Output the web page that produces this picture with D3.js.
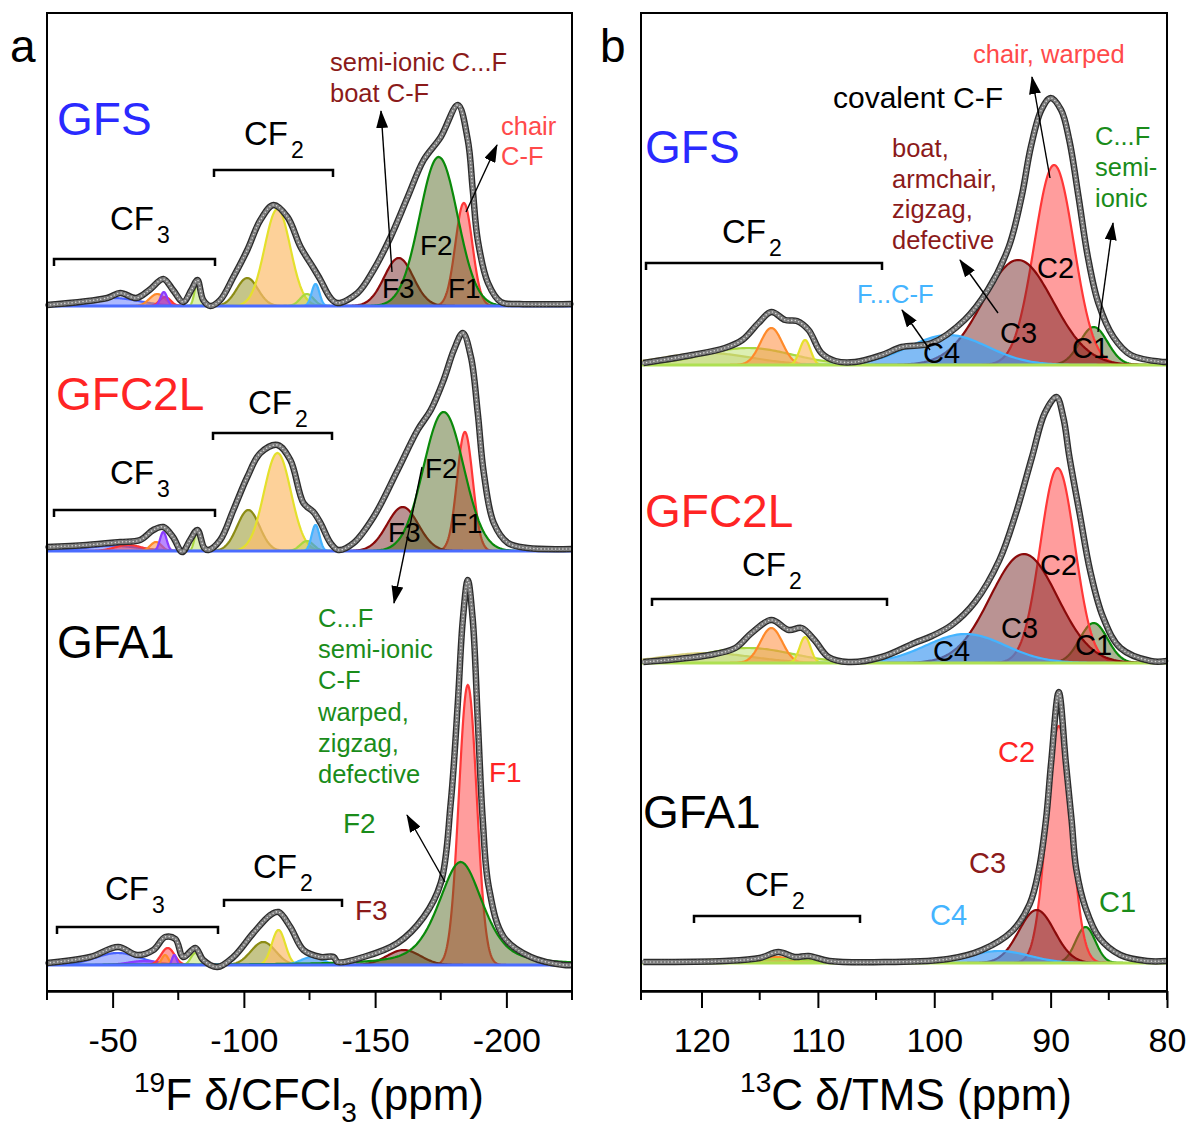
<!DOCTYPE html>
<html>
<head>
<meta charset="utf-8">
<script src="https://cdn.jsdelivr.net/npm/d3@7"></script>
<style>
  body { margin: 0; background: #fff; }
  text { font-family: "Liberation Sans", Arial, sans-serif; }
</style>
</head>
<body>
<svg id="chart"></svg>
<script>
// ---- data ----
// stacked baselines (intensity units, 1 unit = 100 px on the figure)
const sampleNames = ["GFS", "GFC2L", "GFA1"];
const fOffsets = [6.85, 4.40, 0.26];
const cOffsets = [6.26, 3.28, 0.28];

const fTicks = [-50, -100, -150, -200];
const fMinorTicks = [-75, -125, -175];
const cTicks = [120, 110, 100, 90, 80];
const cMinorTicks = [115, 105, 95, 85];

// fitted components: [centre ppm, height, fwhm ppm, colour, lorentz fraction]
const fGFS_peaks = [
  [-50, 0.08, 24, "blue"], [-67, 0.12, 7, "orange"], [-70, 0.09, 5, "red"],
  [-69.5, 0.14, 3, "purple"], [-82.3, 0.24, 2.6, "lime"], [-101.3, 0.28, 9.5, "olive"],
  [-112.8, 0.97, 11.5, "yellow"], [-124, 0.12, 6, "lime"], [-127.3, 0.22, 3.5, "sky"],
  [-183.8, 1.03, 7.6, "red"], [-159, 0.48, 13, "dred"], [-174.2, 1.49, 17, "green"]
];
const fGFC2L_peaks = [
  [-50, 0.05, 25, "blue"], [-56, 0.06, 12, "red"], [-66.5, 0.09, 5, "orange"],
  [-69.3, 0.19, 3, "purple"], [-82.3, 0.21, 2.6, "lime"], [-101.7, 0.41, 10, "olive"],
  [-112.8, 0.98, 12, "yellow"], [-124, 0.10, 6, "lime"], [-127.3, 0.26, 3.5, "sky"],
  [-184.2, 1.19, 7, "red"], [-160.5, 0.44, 14, "dred"], [-176.1, 1.39, 18, "green"]
];
const fGFA1_peaks = [
  [-52, 0.12, 20, "blue"], [-62, 0.04, 14, "purple"], [-71, 0.17, 6, "red"],
  [-70, 0.10, 3, "orange"], [-73.5, 0.10, 2, "purple"], [-81.5, 0.12, 4, "lime"],
  [-107.4, 0.23, 11, "olive"], [-113.2, 0.35, 6, "yellow"], [-126, 0.08, 10, "sky"],
  [-185.3, 2.80, 8, "red"], [-160.9, 0.15, 15, "dred"], [-182.6, 1.03, 20, "green", 0.5]
];
const cGFS_peaks = [
  [119.5, 0.12, 9, "tan"], [116, 0.17, 9, "lime"], [114, 0.37, 2.2, "orange"],
  [111.1, 0.25, 1.1, "yellow"], [86.3, 0.38, 2.8, "green"], [89.7, 2.00, 4, "red"],
  [92.8, 1.05, 7.1, "dred"], [98.8, 0.30, 8, "sky"]
];
const cGFC2L_peaks = [
  [119.5, 0.10, 9, "tan"], [116, 0.15, 9, "lime"], [114, 0.35, 2.2, "orange"],
  [111.1, 0.26, 1.1, "yellow"], [86.3, 0.40, 2.8, "green"], [89.4, 1.95, 3.5, "red"],
  [92.3, 1.09, 6.8, "dred"], [97.3, 0.29, 8, "sky"]
];
const cGFA1_peaks = [
  [117, 0.04, 8, "tan"], [113.5, 0.06, 2.5, "orange"], [110.8, 0.05, 1.5, "yellow"],
  [113, 0.04, 6, "lime"], [87.0, 0.36, 2.0, "green"], [89.3, 2.37, 2.45, "red"],
  [91.2, 0.53, 3.6, "dred"], [94.4, 0.12, 6, "sky"]
];

// experimental spectra: [ppm, intensity]
const fGFS_exp = [
  [-25, 0.01], [-47.9, 0.08], [-52.9, 0.13], [-59, 0.08], [-64, 0.16], [-69.3, 0.27],
  [-73, 0.16], [-76.9, 0.04], [-80, 0.16], [-82.3, 0.26], [-84.5, 0.06], [-87.2, 0.0],
  [-91, 0.06], [-96, 0.29], [-101.3, 0.56], [-106.3, 0.86], [-111.3, 1.01], [-116.6, 0.89],
  [-121.6, 0.59], [-126.5, 0.38], [-129.2, 0.26], [-133, 0.08], [-135.7, 0.03], [-143.3, 0.13],
  [-149.4, 0.36], [-155.9, 0.69], [-162.4, 1.09], [-168.5, 1.46], [-175, 1.69], [-181.5, 2.01],
  [-185.3, 1.66], [-187.2, 1.16], [-189.1, 0.66], [-193, 0.23], [-197.9, 0.04], [-205, 0.02],
  [-225, 0.02]
];
const fGFC2L_exp = [
  [-25, 0.04], [-40, 0.06], [-52.9, 0.09], [-60.5, 0.11], [-65.5, 0.21], [-69.3, 0.24],
  [-73, 0.14], [-76.5, -0.01], [-79.5, 0.11], [-82.3, 0.21], [-84.9, 0.03], [-86.5, 0.01],
  [-91, 0.11], [-96, 0.41], [-101.3, 0.74], [-106.3, 0.98], [-112.8, 1.06], [-117.7, 0.91],
  [-122.7, 0.48], [-126.5, 0.39], [-129.2, 0.28], [-133, 0.08], [-136, 0.01], [-141.8, 0.08],
  [-149.4, 0.34], [-158.6, 0.81], [-166.2, 1.21], [-171.2, 1.41], [-176.1, 1.71], [-180, 2.01],
  [-183.4, 2.18], [-186.5, 1.94], [-189.1, 1.38], [-191.4, 0.78], [-195.2, 0.28], [-200.6, 0.08],
  [-208, 0.03], [-225, 0.02]
];
const fGFA1_exp = [
  [-25, 0.02], [-41.4, 0.08], [-52.1, 0.18], [-59.4, 0.10], [-65.5, 0.15], [-70, 0.28],
  [-73.9, 0.26], [-76.9, 0.08], [-81.5, 0.17], [-84.5, 0.05], [-89.9, -0.02], [-96, 0.08],
  [-103.6, 0.32], [-110.1, 0.50], [-113.2, 0.53], [-117.7, 0.38], [-122.7, 0.15], [-129.2, 0.08],
  [-134.2, 0.08], [-135.7, 0.03], [-145.6, 0.08], [-158.6, 0.22], [-168.5, 0.48], [-175, 0.82],
  [-178.8, 1.62], [-181.5, 2.62], [-183.4, 3.45], [-185.3, 3.85], [-187.2, 3.45], [-189.1, 2.45],
  [-191, 1.45], [-193.3, 0.78], [-199, 0.28], [-209.3, 0.08], [-222, 0.0], [-225, 0.0]
];
const cGFS_exp = [
  [125, 0.02], [120.8, 0.10], [118, 0.17], [116.5, 0.25], [115.1, 0.42], [114, 0.53],
  [112.8, 0.45], [111.8, 0.44], [110.8, 0.35], [109.7, 0.12], [108.5, 0.04], [106.8, 0.03],
  [104.5, 0.10], [102.8, 0.18], [100.2, 0.22], [97.4, 0.45], [95.4, 0.75], [93.6, 1.18],
  [92.5, 1.68], [91.7, 2.18], [90.8, 2.55], [90, 2.67], [89.1, 2.55], [88.4, 2.25],
  [87.6, 1.68], [86.8, 1.08], [85.9, 0.62], [84.6, 0.28], [83.1, 0.10], [80.3, 0.03], [80, 0.03]
];
const cGFC2L_exp = [
  [125, 0.01], [119.3, 0.08], [117.1, 0.15], [115.7, 0.30], [114, 0.43], [112.5, 0.33],
  [111.4, 0.35], [110.3, 0.23], [109.1, 0.06], [107.4, 0.01], [104.5, 0.06], [101.7, 0.20],
  [100.2, 0.27], [98.5, 0.38], [96.5, 0.61], [94.4, 1.03], [93.0, 1.49], [91.6, 2.06],
  [90.5, 2.50], [89.5, 2.66], [88.9, 2.45], [88.4, 2.07], [87.5, 1.49], [86.6, 0.92],
  [85.5, 0.46], [84.0, 0.15], [81.4, 0.02], [80, 0.02]
];
const cGFA1_exp = [
  [125, 0.01], [118, 0.02], [115, 0.05], [113.4, 0.11], [112, 0.06], [110.8, 0.07],
  [109, 0.02], [104, 0.01], [98.8, 0.04], [95.9, 0.13], [93.3, 0.32], [91.8, 0.59],
  [91.0, 0.94], [90.4, 1.43], [89.95, 2.01], [89.3, 2.71], [88.7, 2.01], [88.2, 1.43],
  [87.8, 0.94], [87.0, 0.55], [85.8, 0.25], [84.0, 0.08], [81.7, 0.02], [80, 0.02]
];

const fPeaks = [fGFS_peaks, fGFC2L_peaks, fGFA1_peaks];
const cPeaks = [cGFS_peaks, cGFC2L_peaks, cGFA1_peaks];
const fExp = [fGFS_exp, fGFC2L_exp, fGFA1_exp];
const cExp = [cGFS_exp, cGFC2L_exp, cGFA1_exp];

// ---- styles ----
const styles = {
  blue:   {stroke: "#4a64ff", fill: "rgba(74,100,255,0.45)"},
  purple: {stroke: "#8a3cff", fill: "rgba(138,60,255,0.6)"},
  red:    {stroke: "#ff3838", fill: "rgba(255,60,60,0.5)"},
  orange: {stroke: "#ff8a2a", fill: "rgba(255,140,60,0.55)"},
  lime:   {stroke: "#a8d840", fill: "rgba(168,216,64,0.4)"},
  olive:  {stroke: "#8c8c14", fill: "rgba(140,140,20,0.5)"},
  yellow: {stroke: "#e4e02c", fill: "rgba(252,190,110,0.7)"},
  sky:    {stroke: "#44b4ff", fill: "rgba(60,150,240,0.65)"},
  dred:   {stroke: "#8b0a0a", fill: "rgba(110,30,30,0.48)"},
  green:  {stroke: "#0a8a0a", fill: "rgba(80,100,30,0.48)"},
  tan:    {stroke: "#d8d080", fill: "rgba(200,190,110,0.35)"}
};

const W = 1189, H = 1127;
const yTop = 13, yBottom = 991;

const svg = d3.select("#chart").attr("width", W).attr("height", H);

svg.append("defs").append("marker")
    .attr("id", "arr")
    .attr("viewBox", "0 0 18 12")
    .attr("refX", 17).attr("refY", 6)
    .attr("markerWidth", 18).attr("markerHeight", 12)
    .attr("markerUnits", "userSpaceOnUse")
    .attr("orient", "auto")
  .append("path").attr("d", "M0,0L18,6L0,12Z").attr("fill", "#000");

const y = d3.scaleLinear().domain([0, 9.78]).range([yBottom, yTop]);

// lineshape of one component (gauss / lorentz mix)
function shape(p, v) {
  const eta = p[4] || 0, d = (v - p[0]) / p[2];
  return p[1] * ((1 - eta) * Math.exp(-4 * Math.LN2 * d * d) + eta / (1 + 4 * d * d));
}

function panel(x, peaks, exps, offsets, baseColor) {
  const g = svg.append("g");
  const [d0, d1] = x.domain();
  peaks.forEach((list, i) => {
    const off = offsets[i];
    list.forEach(p => {
      const span = p[4] ? Math.abs(d1 - d0) : 3.2 * p[2];
      const lo = Math.max(Math.min(d0, d1), p[0] - span), hi = Math.min(Math.max(d0, d1), p[0] + span);
      const pts = d3.range(lo, hi, (hi - lo) / 240).concat([hi]);
      const area = d3.area()
          .x(v => x(v)).y0(y(off)).y1(v => y(off + shape(p, v)));
      const ln = d3.line().x(v => x(v)).y(v => y(off + shape(p, v)));
      g.append("path").attr("d", area(pts)).attr("fill", styles[p[3]].fill);
      g.append("path").attr("d", ln(pts)).attr("fill", "none")
          .attr("stroke", styles[p[3]].stroke).attr("stroke-width", 2.2);
    });
    g.append("line")
        .attr("x1", x.range()[0]).attr("x2", x.range()[1])
        .attr("y1", y(off)).attr("y2", y(off))
        .attr("stroke", baseColor).attr("stroke-width", 3);
  });
  exps.forEach((data, i) => {
    const off = offsets[i];
    const line = d3.line().x(d => x(d[0])).y(d => y(off + d[1]))
        .curve(d3.curveCatmullRom.alpha(0.5));
    const dpath = line(data);
    g.append("path").attr("d", dpath).attr("fill", "none")
        .attr("stroke", "#2c2c2c").attr("stroke-width", 6.5).attr("stroke-linejoin", "round");
    g.append("path").attr("d", dpath).attr("fill", "none")
        .attr("stroke", "#8e8e8e").attr("stroke-width", 3.5);
    g.append("path").attr("d", dpath).attr("fill", "none")
        .attr("stroke", "#7a7a7a").attr("stroke-width", 4.2)
        .attr("stroke-linecap", "round").attr("stroke-dasharray", "0 3.6");
    g.append("path").attr("d", dpath).attr("fill", "none")
        .attr("stroke", "#d6d6d6").attr("stroke-width", 1.6)
        .attr("stroke-linecap", "round").attr("stroke-dasharray", "0 3.6");
  });
  // frame
  const [r0, r1] = x.range();
  g.append("rect").attr("x", r0).attr("y", yTop).attr("width", r1 - r0).attr("height", yBottom - yTop)
      .attr("fill", "none").attr("stroke", "#000").attr("stroke-width", 2);
  return g;
}

function axis(x, ticks, minor, fmt) {
  const g = svg.append("g").attr("transform", `translate(0,${yBottom})`);
  g.call(d3.axisBottom(x).tickValues(ticks).tickSize(17).tickSizeOuter(0).tickFormat(fmt))
   .call(a => a.select(".domain").attr("stroke-width", 2.5))
   .call(a => a.selectAll(".tick line").attr("stroke-width", 2))
   .call(a => a.selectAll(".tick text").attr("font-size", 34).attr("dy", 0)
        .attr("y", 61).attr("font-family", "'Liberation Sans', Arial, sans-serif"));
  g.selectAll(".minor").data(minor).join("line")
      .attr("x1", d => x(d)).attr("x2", d => x(d))
      .attr("y1", 0).attr("y2", 9).attr("stroke", "#000").attr("stroke-width", 2);
  // edge ticks
  g.selectAll(".edge").data(x.range()).join("line")
      .attr("x1", d => d).attr("x2", d => d).attr("y1", 0).attr("y2", 9)
      .attr("stroke", "#000").attr("stroke-width", 2);
}

const xF = d3.scaleLinear().domain([-25, -225]).range([47, 572]);
const xC = d3.scaleLinear().domain([125.2, 80]).range([641, 1167]);

panel(xF, fPeaks, fExp, fOffsets, "#4a6cff");
panel(xC, cPeaks, cExp, cOffsets, "#aee052");
axis(xF, fTicks, fMinorTicks, d => String(d));
axis(xC, cTicks, cMinorTicks, d => String(d));

// ---- annotations ----
const ann = svg.append("g");
function txt(x0, y0, s, size, color, anchor) {
  return ann.append("text").attr("x", x0).attr("y", y0).attr("font-size", size)
      .attr("fill", color || "#000").attr("text-anchor", anchor || "start").text(s);
}
function cf(x0, y0, sub) {
  const t = ann.append("text").attr("x", x0).attr("y", y0).attr("font-size", 33);
  t.append("tspan").text("CF");
  t.append("tspan").attr("font-size", 23).attr("dx", 3).attr("dy", 13).text(sub);
}
function bracket(x1, x2, yy) {
  ann.append("path").attr("d", `M${x1},${yy + 7}V${yy}H${x2}V${yy + 7}`)
      .attr("fill", "none").attr("stroke", "#000").attr("stroke-width", 2.5);
}
function arrow(x1, y1, x2, y2) {
  ann.append("line").attr("x1", x1).attr("y1", y1).attr("x2", x2).attr("y2", y2)
      .attr("stroke", "#000").attr("stroke-width", 1.4).attr("marker-end", "url(#arr)");
}

const BLUE = "#2a2aff", RED = "#ff2424", DRED = "#8b1a1a", GREEN = "#1a8c1a", SKY = "#44b4ff";
const NOTE = 25.5;

// panel a
txt(10, 62, "a", 46);
txt(57, 135, "GFS", 46, BLUE);
txt(56, 410, "GFC2L", 46, RED);
txt(57, 658, "GFA1", 46);
cf(110, 230, "3"); bracket(54, 215, 259);
cf(244, 145, "2"); bracket(214, 333, 170);
cf(110, 484, "3"); bracket(54, 215, 510);
cf(248, 414, "2"); bracket(213, 332, 433);
cf(105, 900, "3"); bracket(57, 218, 927);
cf(253, 878, "2"); bracket(224, 342, 900);

txt(330, 71, "semi-ionic C...F", NOTE, DRED);
txt(330, 102, "boat C-F", NOTE, DRED);
arrow(392, 272, 381, 111);
txt(501, 135, "chair", NOTE, "#ff4a4a");
txt(501, 165, "C-F", NOTE, "#ff4a4a");
arrow(466, 212, 497, 145);
txt(420, 255, "F2", 28); txt(382, 298, "F3", 28); txt(448, 298, "F1", 28);

txt(425, 478, "F2", 28); txt(388, 542, "F3", 28); txt(450, 533, "F1", 28);
arrow(422, 467, 394, 603);
["C...F", "semi-ionic", "C-F", "warped,", "zigzag,", "defective"].forEach((s, i) =>
  txt(318, 627 + i * 31.2, s, NOTE, GREEN));
txt(489, 782, "F1", 28, RED);
txt(343, 833, "F2", 28, GREEN);
arrow(445, 882, 407, 815);
txt(355, 920, "F3", 28, DRED);

// panel b
txt(600, 62, "b", 46);
txt(645, 163, "GFS", 46, BLUE);
txt(645, 527, "GFC2L", 46, RED);
txt(643, 828, "GFA1", 46);
cf(722, 243, "2"); bracket(646, 882, 263);
cf(742, 576, "2"); bracket(652, 887, 599);
cf(745, 896, "2"); bracket(694, 860, 916);

txt(833, 108, "covalent C-F", 30);
txt(973, 63, "chair, warped", NOTE, "#ff4a4a");
arrow(1050, 178, 1032, 77);
["boat,", "armchair,", "zigzag,", "defective"].forEach((s, i) =>
  txt(892, 157 + i * 30.5, s, NOTE, DRED));
arrow(998, 313, 960, 260);
["C...F", "semi-", "ionic"].forEach((s, i) => txt(1095, 145 + i * 31, s, NOTE, GREEN));
arrow(1098, 332, 1113, 223);
txt(857, 303, "F...C-F", NOTE, SKY);
arrow(930, 350, 902, 310);
txt(1037, 278, "C2", 29); txt(1000, 343, "C3", 29); txt(923, 363, "C4", 29); txt(1072, 358, "C1", 29);
txt(1040, 575, "C2", 29); txt(1001, 638, "C3", 29); txt(933, 661, "C4", 29); txt(1075, 655, "C1", 29);
txt(998, 762, "C2", 29, RED); txt(969, 873, "C3", 29, DRED); txt(930, 925, "C4", 29, SKY); txt(1099, 912, "C1", 29, GREEN);

// axis titles
function title(cx, parts) {
  const t = ann.append("text").attr("x", cx).attr("y", 1110).attr("font-size", 44)
      .attr("text-anchor", "middle");
  parts.forEach(p => t.append("tspan").attr("font-size", p[1]).attr("dy", p[2]).text(p[0]));
}
title(309, [["19", 28, -18], ["F \u03b4/CFCl", 44, 18], ["3", 28, 12], [" (ppm)", 44, -12]]);
title(906, [["13", 28, -18], ["C \u03b4/TMS (ppm)", 44, 18]]);
</script>
</body>
</html>
